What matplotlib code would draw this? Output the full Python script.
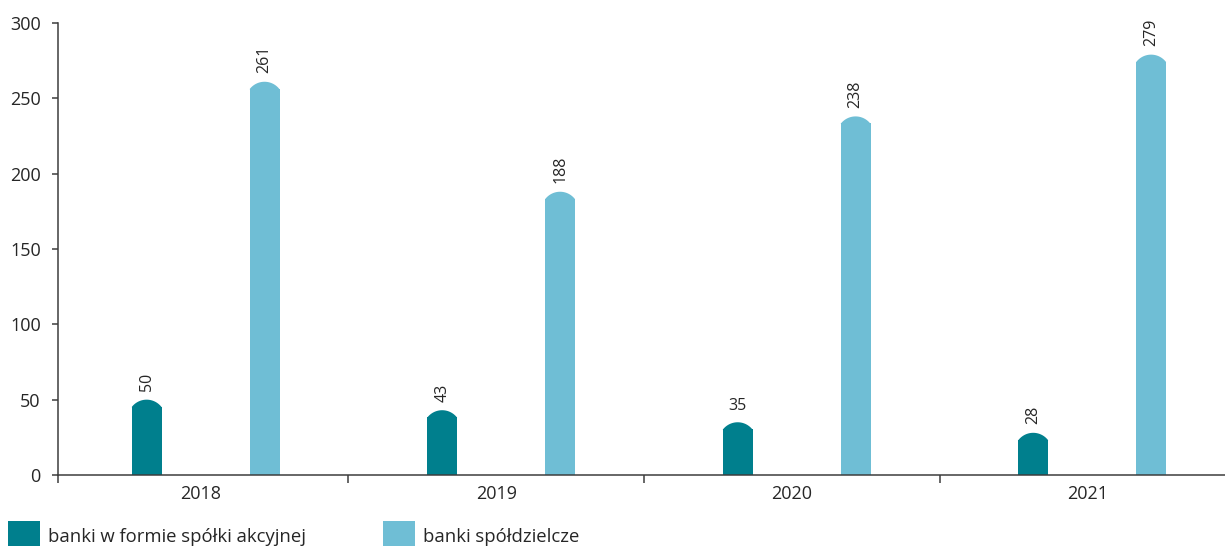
import numpy as np
import matplotlib
matplotlib.use('Agg')
import matplotlib.pyplot as plt
from matplotlib.patches import Polygon, Rectangle

plt.rcParams['font.family'] = ['Open Sans', 'DejaVu Sans']

years = ['2018', '2019', '2020', '2021']
akcyjne = np.array([50, 43, 35, 28])
spoldzielcze = np.array([261, 188, 238, 279])
series_names = ['banki w formie spółki akcyjnej', 'banki spółdzielcze']

# label rotation per bar (the "35" label is horizontal in the original)
rot_akc = [90, 90, 0, 90]
rot_spo = [90, 90, 90, 90]

dark = '#007f8d'
light = '#6fbed5'
txt = '#262626'
axc = '#3d3d3d'

fig = plt.figure(figsize=(12.25, 5.46), dpi=100)
ax = fig.add_axes([57.5/1225, 1-475/546, 1-57.5/1225, 452/546])

ax.set_xlim(-0.4846, 3.466)
ax.set_ylim(0, 300)

x = np.arange(len(years))
w = 0.1015
# rounded top, sizes in pixels converted to data units
cap_px = 7.5
half_px = 15
upx = 300/452.0
cap = cap_px*upx
R = (half_px**2 + cap_px**2)/(2*cap_px)


def draw(xpos, vals, color, rots):
    bars = ax.bar(xpos, vals - cap + 0.3, w, color=color, linewidth=0)
    for b, v, r in zip(bars, vals, rots):
        x0 = b.get_x()
        bw = b.get_width()
        t = np.linspace(-1, 1, 50)
        yp = np.sqrt(R**2 - (half_px*t)**2) - (R - cap_px)
        xs = x0 + (t + 1)/2*bw
        ys = v - cap + yp*upx
        pts = [(x0, v - cap)] + list(zip(xs, ys)) + [(x0 + bw, v - cap)]
        ax.add_patch(Polygon(pts, closed=True, color=color, linewidth=0))
        ax.annotate(str(v), (x0 + bw/2, v), xytext=(0, 6),
                    textcoords='offset points', ha='center', va='bottom',
                    rotation=r, fontsize=11.5, color=txt)


draw(x - 0.183, akcyjne, dark, rot_akc)
draw(x + 0.216, spoldzielcze, light, rot_spo)

for s in ['top', 'right']:
    ax.spines[s].set_visible(False)
for s in ['left', 'bottom']:
    ax.spines[s].set_color(axc)
    ax.spines[s].set_linewidth(1.1)

ax.set_yticks(np.arange(0, 301, 50))
ax.tick_params(axis='y', length=4.3, width=1.1, color=axc, pad=7.8,
               labelsize=13, labelcolor=txt)
ax.set_xticks(x)
ax.set_xticklabels(years)
ax.set_xticks([-0.4846, 0.5, 1.5, 2.5], minor=True)
ax.tick_params(axis='x', which='major', length=0, pad=7, labelsize=13,
               labelcolor=txt)
ax.tick_params(axis='x', which='minor', length=6, width=1.1, color=axc)

# legend drawn by hand, sitting on the bottom edge like the original
for lx, tx, c, name in [(8.3, 48.3, dark, series_names[0]),
                        (383, 422.6, light, series_names[1])]:
    fig.add_artist(Rectangle((lx/1225, 1-553/546), 32/1225, 32/546,
                             transform=fig.transFigure, color=c, linewidth=0))
    fig.text(tx/1225, 1-542/546, name, fontsize=13.3, color=txt,
             ha='left', va='baseline')

fig.savefig('out.png', dpi=100)
